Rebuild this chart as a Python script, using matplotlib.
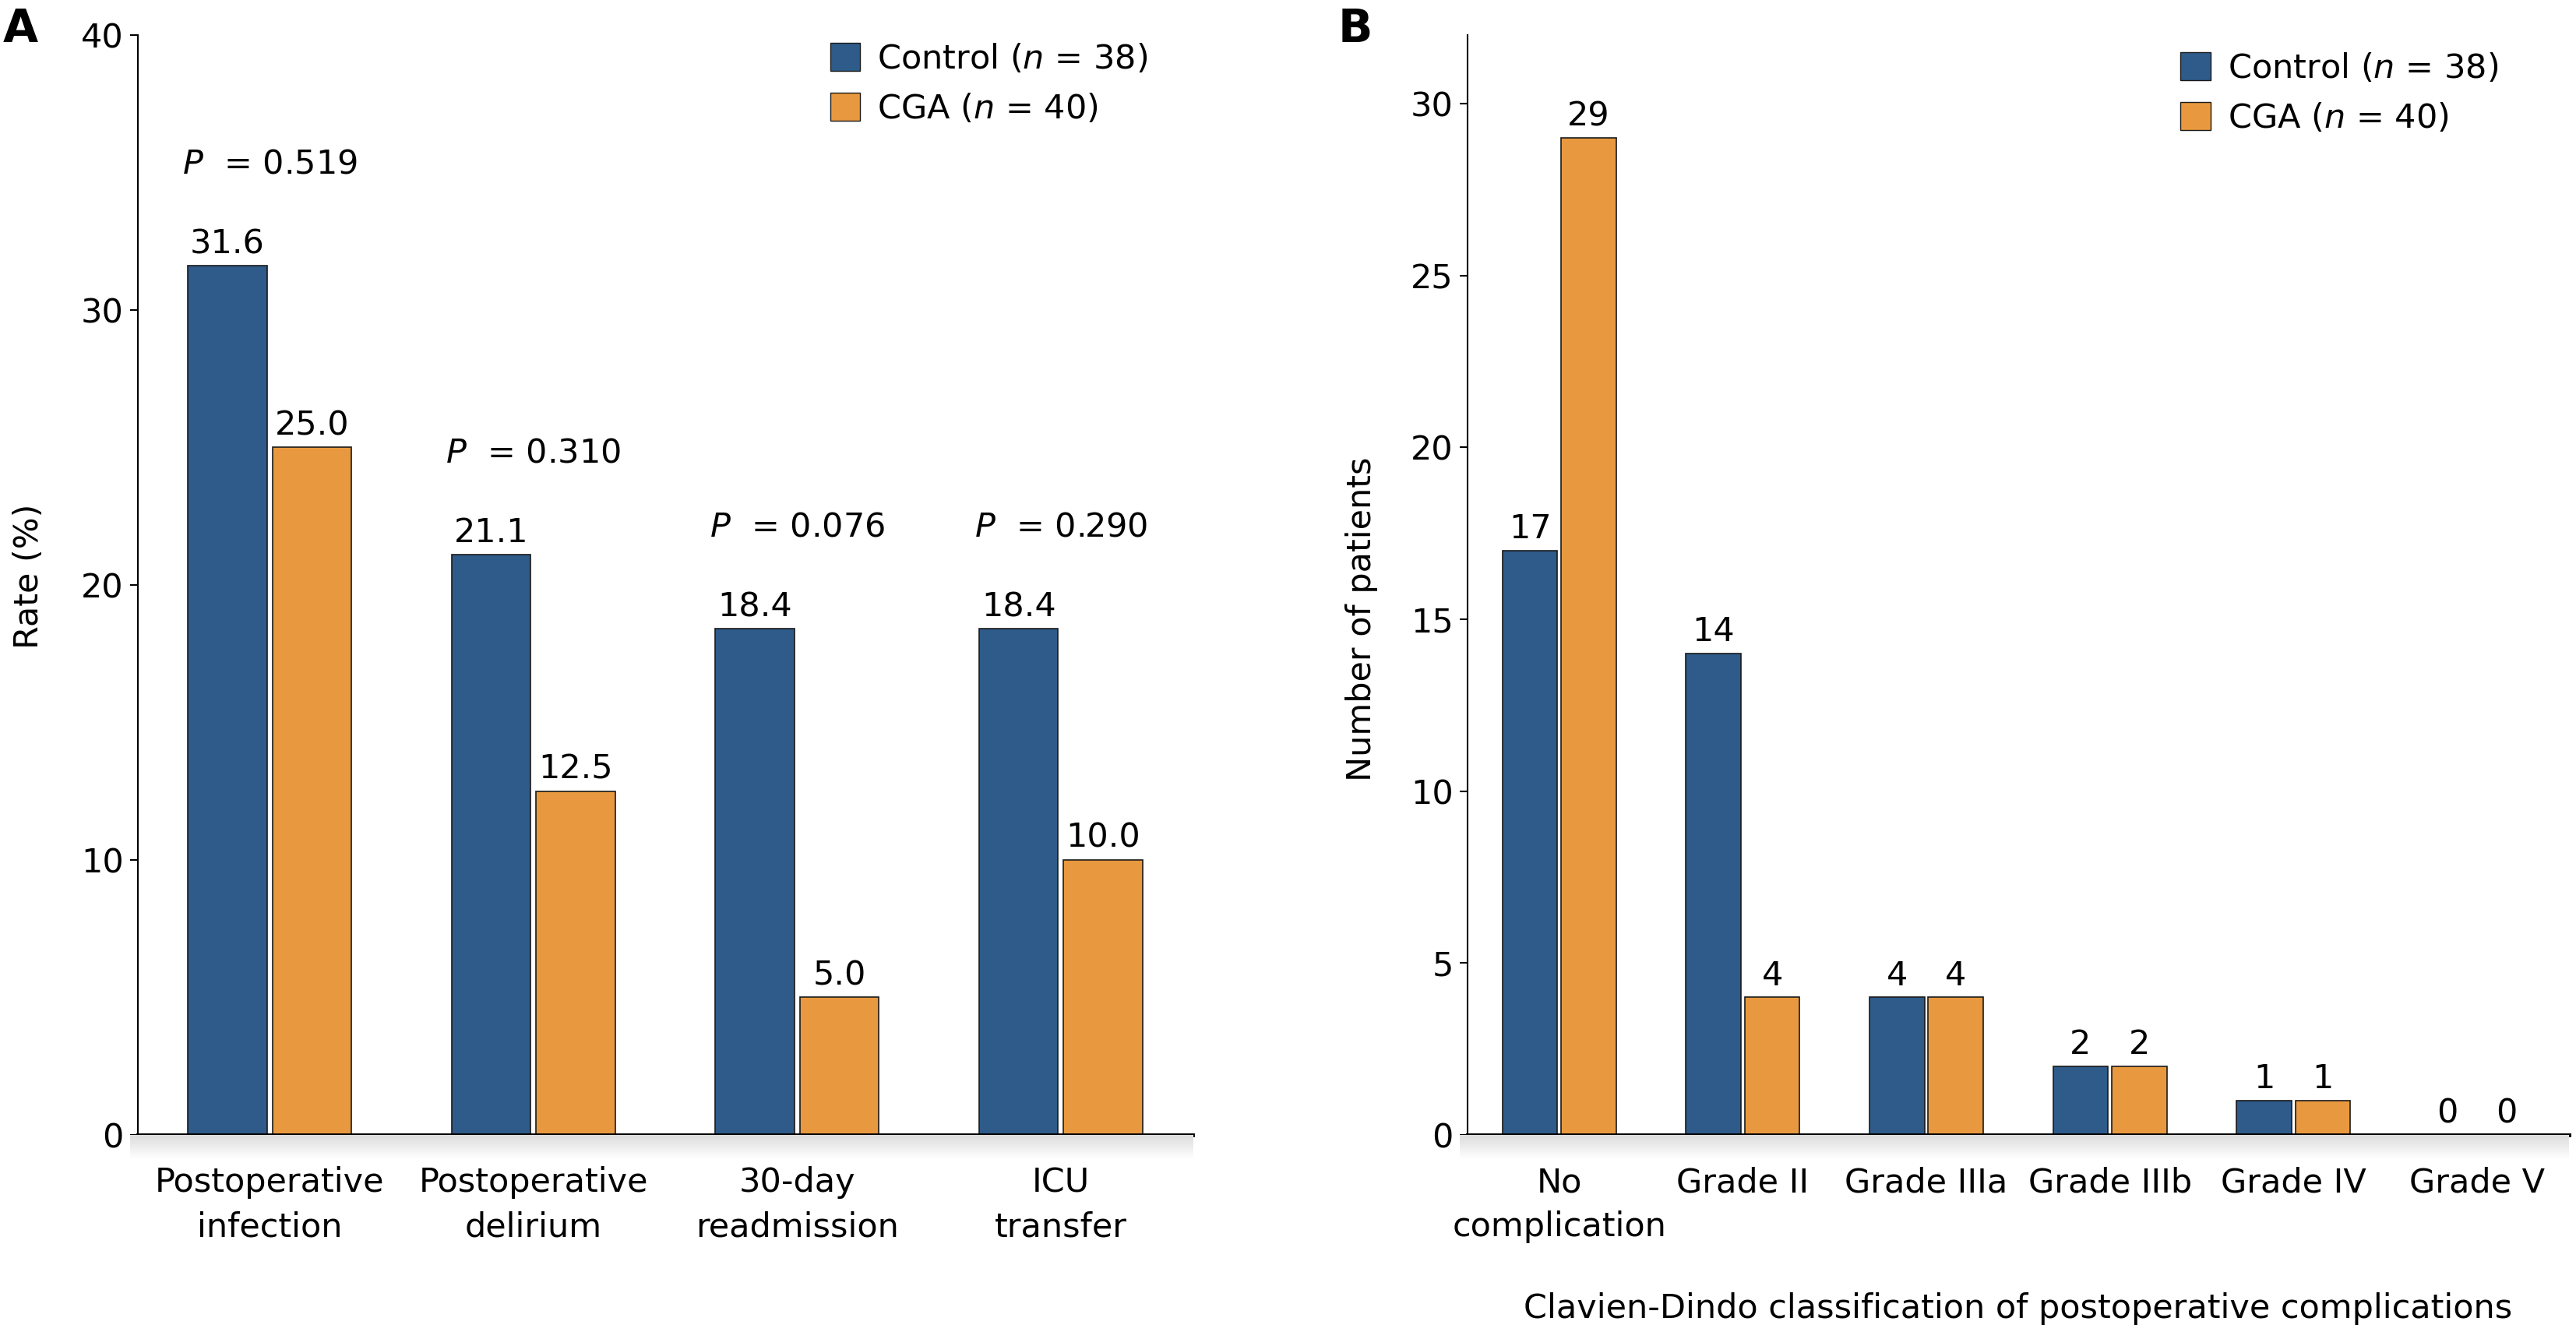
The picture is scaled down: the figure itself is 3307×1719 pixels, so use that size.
import numpy as np
import matplotlib
matplotlib.use("Agg")
import matplotlib.pyplot as plt
from matplotlib.patches import Patch

# panel A data
outcomes = ["Postoperative\ninfection", "Postoperative\ndelirium", "30-day\nreadmission", "ICU\ntransfer"]
ctrl_rate = [31.6, 21.1, 18.4, 18.4]
cga_rate = [25.0, 12.5, 5.0, 10.0]
p_values = ["0.519", "0.310", "0.076", "0.290"]

# panel B data
grades = ["No\ncomplication", "Grade II", "Grade IIIa", "Grade IIIb", "Grade IV", "Grade V"]
ctrl_n = [17, 14, 4, 2, 1, 0]
cga_n = [29, 4, 4, 2, 1, 0]

BLUE = "#2e5b89"
ORANGE = "#e8993f"
FS = 31

plt.rcParams["font.family"] = "DejaVu Sans"
plt.rcParams["mathtext.fontset"] = "dejavusans"

fig = plt.figure(figsize=(33.07, 17.19), dpi=100)
bot, top = 0.1524, 0.9740
axA = fig.add_axes([0.0535, bot, 0.4095, top - bot])
axB = fig.add_axes([0.5697, bot, 0.4275, top - bot])

def draw_panel(ax, cats, c1, c2, fmt, ymax, yticks):
    x = np.arange(len(cats))
    w, off = 0.30, 0.16
    b1 = ax.bar(x - off, c1, w, color=BLUE, edgecolor="#1a1a1a", linewidth=1.2, zorder=2)
    b2 = ax.bar(x + off, c2, w, color=ORANGE, edgecolor="#1a1a1a", linewidth=1.2, zorder=2)
    for bars, vals in ((b1, c1), (b2, c2)):
        for b, v in zip(bars, vals):
            ax.annotate(fmt.format(v), (b.get_x() + b.get_width() / 2, v),
                        xytext=(0, 5), textcoords="offset points",
                        ha="center", va="bottom", fontsize=FS)
    ax.set_xlim(-0.5, len(cats) - 0.5)
    ax.set_ylim(0, ymax)
    ax.set_yticks(yticks)
    ax.set_xticks(x)
    ax.set_xticklabels(cats, fontsize=FS, linespacing=1.45)
    ax.tick_params(axis="x", length=0, pad=29)
    ax.tick_params(axis="y", length=7, width=1.5, labelsize=FS, pad=6)
    for s in ("top", "right"):
        ax.spines[s].set_visible(False)
    ax.spines["left"].set_linewidth(1.5)
    ax.spines["bottom"].set_linewidth(3.5)
    # soft shadow under the x axis
    pos = ax.get_position()
    sh = fig.add_axes([pos.x0 - 0.003, pos.y0 - 0.018, pos.width + 0.003, 0.018], zorder=0)
    grad = np.linspace(0.86, 1.0, 60).reshape(-1, 1)
    sh.imshow(grad, cmap="gray", vmin=0, vmax=1, aspect="auto")
    sh.axis("off")
    handles = [Patch(facecolor=BLUE, edgecolor="#1a1a1a"), Patch(facecolor=ORANGE, edgecolor="#1a1a1a")]
    return handles

hA = draw_panel(axA, outcomes, ctrl_rate, cga_rate, "{:.1f}", 40, [0, 10, 20, 30, 40])
for i, p in enumerate(p_values):
    ymax = max(ctrl_rate[i], cga_rate[i])
    axA.text(i, ymax + 3.7, "$P$  = " + p, ha="center", va="center", fontsize=FS)
axA.text(-0.103, 0.508, "Rate (%)", transform=axA.transAxes, rotation=90,
         ha="center", va="center", fontsize=FS)

hB = draw_panel(axB, grades, ctrl_n, cga_n, "{:d}", 32, [0, 5, 10, 15, 20, 25, 30])
axB.text(-0.0965, 0.469, "Number of patients", transform=axB.transAxes, rotation=90,
         ha="center", va="center", fontsize=FS)
axB.text(0.5, -0.158, "Clavien-Dindo classification of postoperative complications",
         transform=axB.transAxes, ha="center", va="center", fontsize=FS)

labels = ["Control ($n$ = 38)", "CGA ($n$ = 40)"]
fig.legend(hA, labels, loc="upper left", bbox_to_anchor=(0.3222, 0.968), frameon=False,
           fontsize=FS, handlelength=0.9, handleheight=0.9, handletextpad=0.5,
           borderpad=0, borderaxespad=0, labelspacing=0.5)
fig.legend(hB, labels, loc="upper left", bbox_to_anchor=(0.8465, 0.961), frameon=False,
           fontsize=FS, handlelength=0.9, handleheight=0.9, handletextpad=0.5,
           borderpad=0, borderaxespad=0, labelspacing=0.5)

fig.text(0.001, 0.995, "A", fontsize=42, fontweight="bold", ha="left", va="top")
fig.text(0.5195, 0.995, "B", fontsize=42, fontweight="bold", ha="left", va="top")

fig.savefig("out.png", dpi=100)
